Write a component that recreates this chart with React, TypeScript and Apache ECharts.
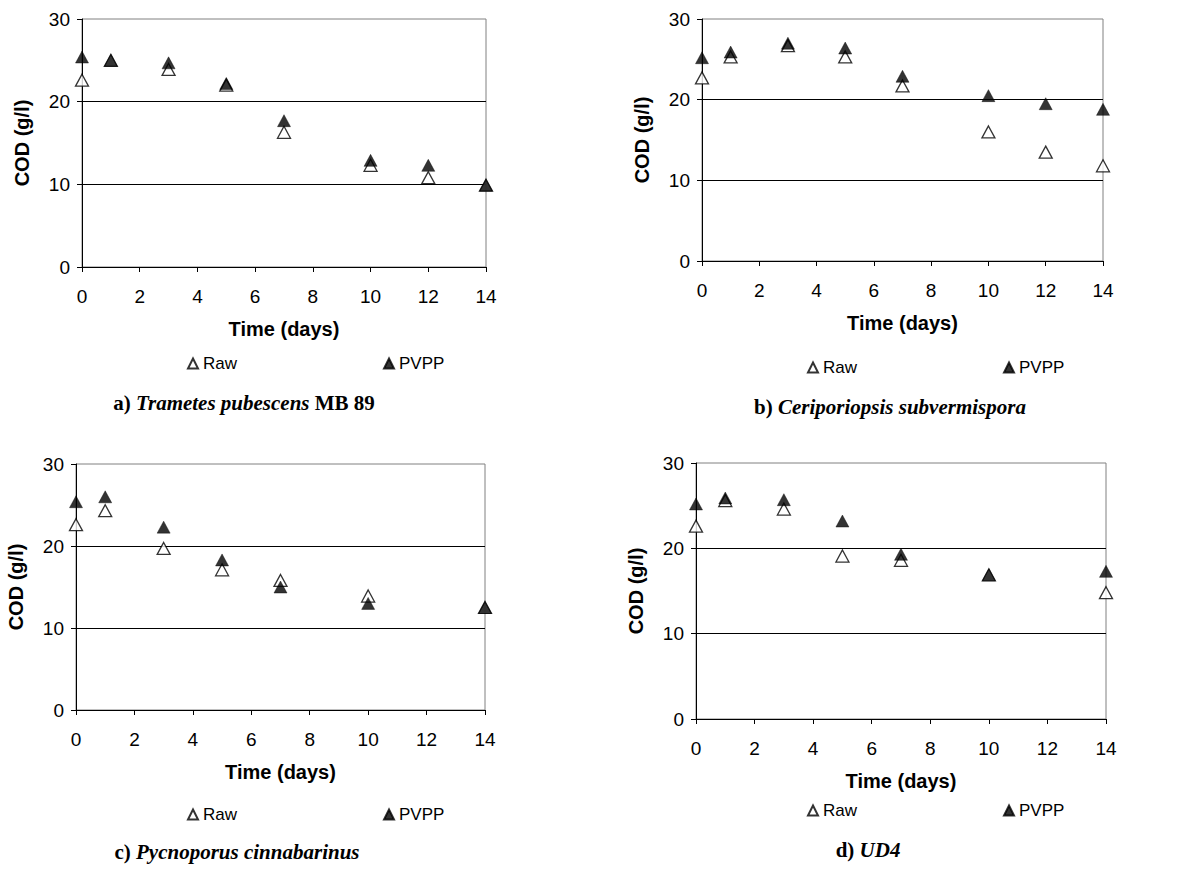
import React, { useEffect, useRef } from "react";
import * as echarts from "echarts";

// Sampling days for each fungus
const daysA = [0, 1, 3, 5, 7, 10, 12, 14];
const daysB = [0, 1, 3, 5, 7, 10, 12, 14];
const daysC = [0, 1, 3, 5, 7, 10, 14];
const daysD = [0, 1, 3, 5, 7, 10, 14];

// COD (g/l) of raw and PVPP-treated olive mill wastewater
const rawA = [22.6, 25.0, 23.9, 22.0, 16.3, 12.3, 10.8, 9.9];
const pvppA = [25.4, 25.0, 24.7, 22.2, 17.7, 12.9, 12.3, 9.9];
const rawB = [22.7, 25.3, 26.7, 25.3, 21.7, 16.0, 13.5, 11.8];
const pvppB = [25.2, 25.9, 27.0, 26.4, 22.9, 20.5, 19.5, 18.8];
const rawC = [22.6, 24.3, 19.7, 17.1, 15.8, 13.9, 12.5];
const pvppC = [25.4, 26.0, 22.3, 18.3, 15.0, 13.0, 12.5];
const rawD = [22.6, 25.6, 24.6, 19.1, 18.6, 16.9, 14.8];
const pvppD = [25.2, 25.9, 25.7, 23.2, 19.3, 16.9, 17.3];

// Axis ranges
const xRange = { min: 0, max: 14, interval: 2 };
const yRange = { min: 0, max: 30, interval: 10 };

const seriesNames = ["Raw", "PVPP"];
const xTitle = "Time (days)";
const yTitle = "COD (g/l)";

// Caption parts: label, italic species name, trailing strain code
const captionLabels = ["a)", "b)", "c)", "d)"];
const captionSpecies = ["Trametes pubescens", "Ceriporiopsis subvermispora", "Pycnoporus cinnabarinus", "UD4"];
const captionSuffix = [" MB 89", "", "", ""];

const panels = [
  { days: daysA, raw: rawA, pvpp: pvppA },
  { days: daysB, raw: rawB, pvpp: pvppB },
  { days: daysC, raw: rawC, pvpp: pvppC },
  { days: daysD, raw: rawD, pvpp: pvppD },
];

// Layout of each panel on the page
const layout = [
  { grid: { left: 82, top: 19, width: 404, height: 248 }, legend: { left: 187, top: 355 }, caption: { x: 244, y: 403 } },
  { grid: { left: 702, top: 19, width: 401, height: 242 }, legend: { left: 807, top: 359 }, caption: { x: 890, y: 407 } },
  { grid: { left: 76, top: 464, width: 409, height: 246 }, legend: { left: 187, top: 806 }, caption: { x: 237, y: 852 } },
  { grid: { left: 696, top: 463, width: 410, height: 256 }, legend: { left: 807, top: 802 }, caption: { x: 868, y: 850 } },
];

const SANS = "'Liberation Sans', Arial, sans-serif";
const SERIF = "'Liberation Serif', 'Times New Roman', serif";

export default function App() {
  const ref = useRef<HTMLDivElement>(null);

  useEffect(() => {
    if (!ref.current) return;
    const chart = echarts.init(ref.current, undefined, { renderer: "svg" });

    const grids = layout.map((l) => ({
      ...l.grid,
      show: true,
      borderColor: "#808080",
      borderWidth: 1,
      backgroundColor: "transparent",
    }));

    const xAxes = layout.map((_, i) => ({
      type: "value",
      gridIndex: i,
      ...xRange,
      name: xTitle,
      nameLocation: "middle",
      nameGap: 52,
      nameTextStyle: { fontFamily: SANS, fontWeight: "bold", fontSize: 20, color: "#000" },
      axisLine: { show: true, onZero: false, lineStyle: { color: "#000", width: 1 } },
      axisTick: { show: true, inside: false, length: 5, lineStyle: { color: "#000" } },
      axisLabel: { fontFamily: SANS, fontSize: 19, color: "#000", margin: 20 },
      splitLine: { show: false },
    }));

    const yAxes = layout.map((_, i) => ({
      type: "value",
      gridIndex: i,
      ...yRange,
      name: yTitle,
      nameLocation: "middle",
      nameGap: 50,
      nameTextStyle: { fontFamily: SANS, fontWeight: "bold", fontSize: 20, color: "#000" },
      axisLine: { show: true, lineStyle: { color: "#000", width: 1 } },
      axisTick: { show: true, inside: false, length: 5, lineStyle: { color: "#000" } },
      axisLabel: { fontFamily: SANS, fontSize: 19, color: "#000", margin: 12 },
      splitLine: { show: true, showMinLine: false, showMaxLine: false, lineStyle: { color: "#000", width: 1 } },
    }));

    const series: any[] = [];
    panels.forEach((p, i) => {
      series.push({
        type: "scatter",
        name: seriesNames[0],
        xAxisIndex: i,
        yAxisIndex: i,
        symbol: "triangle",
        symbolSize: [13, 12],
        itemStyle: { color: "#fff", borderColor: "#000", borderWidth: 1.3 },
        data: p.days.map((d, k) => [d, p.raw[k]]),
        z: 2,
      });
      series.push({
        type: "scatter",
        name: seriesNames[1],
        xAxisIndex: i,
        yAxisIndex: i,
        symbol: "triangle",
        symbolSize: [13, 12],
        itemStyle: { color: "#000", borderColor: "#000", borderWidth: 0.5 },
        data: p.days.map((d, k) => [d, p.pvpp[k]]),
        z: 3,
      });
    });

    const legends = layout.map((l) => ({
      ...l.legend,
      orient: "horizontal",
      padding: 0,
      data: seriesNames,
      icon: "triangle",
      itemWidth: 10,
      itemHeight: 10,
      itemGap: 146,
      selectedMode: false,
      textStyle: { fontFamily: SANS, fontSize: 17, color: "#000" },
    }));

    const captions = layout.map((l, i) => ({
      type: "text",
      x: l.caption.x,
      y: l.caption.y,
      style: {
        text: `{n|${captionLabels[i]} }{i|${captionSpecies[i]}}{n|${captionSuffix[i]}}`,
        align: "center",
        verticalAlign: "middle",
        rich: {
          n: { fontFamily: SERIF, fontWeight: "bold", fontSize: 21, fill: "#000" },
          i: { fontFamily: SERIF, fontWeight: "bold", fontStyle: "italic", fontSize: 21, fill: "#000" },
        },
      },
    }));

    chart.setOption({
      animation: false,
      backgroundColor: "#fff",
      grid: grids,
      xAxis: xAxes,
      yAxis: yAxes,
      legend: legends,
      series,
      graphic: captions,
    });

    return () => chart.dispose();
  }, []);

  return (
    <div
      ref={ref}
      style={{ position: "absolute", left: 0, top: 0, width: 1195, height: 880, background: "#fff" }}
    />
  );
}
